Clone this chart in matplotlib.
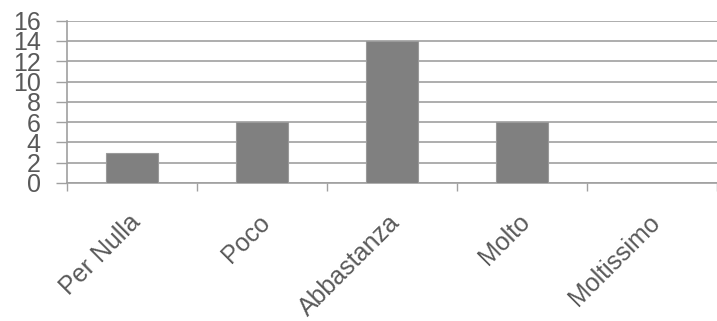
import numpy as np
import matplotlib.pyplot as plt
from matplotlib.transforms import ScaledTranslation

# Risposte per categoria
categorie = ['Per Nulla', 'Poco', 'Abbastanza', 'Molto', 'Moltissimo']
valori = [3, 6, 14, 6, 0]
yticks = [0, 2, 4, 6, 8, 10, 12, 14, 16]

plt.rcParams['font.family'] = ['Liberation Sans', 'DejaVu Sans']

grigio = '#a0a0a0'
testo = '#595959'

fig = plt.figure(figsize=(7.17, 3.21), dpi=100)
ax = fig.add_axes([67 / 717, (321 - 183) / 321, 650 / 717, 162.3 / 321])

x = np.arange(len(categorie))
ax.bar(x, valori, width=0.4, color='#808080', edgecolor='#9a9a9a', linewidth=0.8, zorder=3)

ax.set_ylim(0, 16)
ax.set_xlim(-0.5, -0.5 + 650 / 131.5)

ax.set_yticks(yticks)
ax.set_yticklabels([str(v) for v in yticks], fontsize=18, color=testo)
ax.tick_params(axis='y', length=8, width=1, color=grigio, pad=11)
ax.yaxis.grid(True, color=grigio, linewidth=1.2, zorder=0)

# tacche ai confini delle categorie, etichette ruotate sotto il centro
ax.set_xticks(np.arange(len(categorie) + 1) - 0.5)
ax.set_xticklabels([])
ax.tick_params(axis='x', length=6, width=1, color=grigio)

sposta = ScaledTranslation(-4 / 100, -27 / 100, fig.dpi_scale_trans)
for xi, nome in zip(x, categorie):
    ax.text(xi, 0, nome, transform=ax.get_xaxis_transform() + sposta,
            fontsize=18, color=testo, rotation=45, rotation_mode='anchor',
            ha='right', va='top', clip_on=False)

for lato in ['top', 'right']:
    ax.spines[lato].set_visible(False)
for lato in ['left', 'bottom']:
    ax.spines[lato].set_color(grigio)
    ax.spines[lato].set_linewidth(1.2)

fig.savefig('out.png', dpi=100)
